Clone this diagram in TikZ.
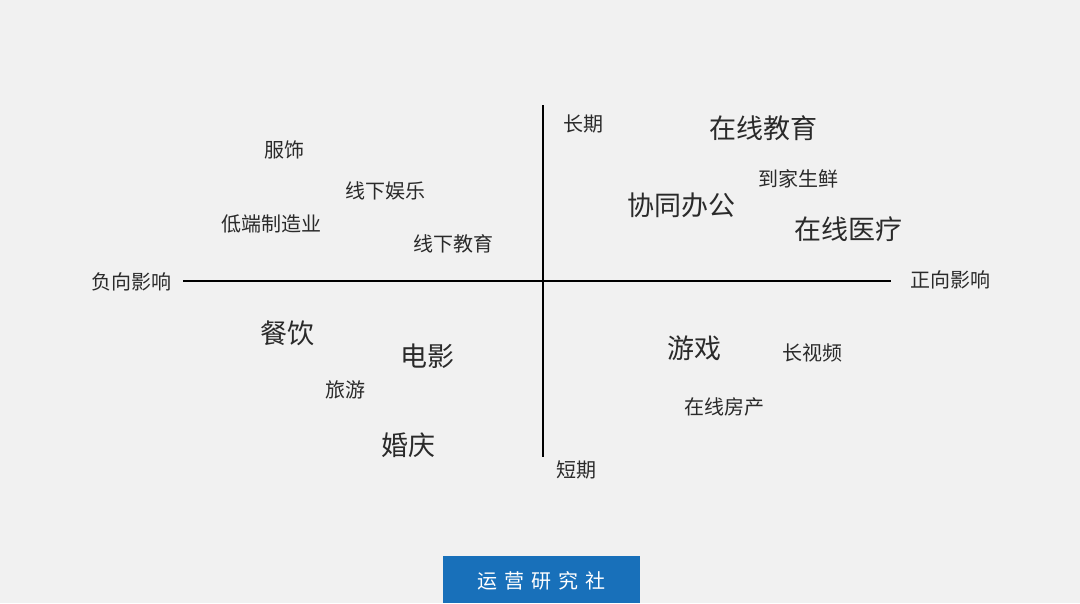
\documentclass[tikz,border=0pt]{standalone}
\usepackage{fontspec}
\setmainfont{Noto Sans CJK SC}
\definecolor{bg}{HTML}{F1F1F1}
\definecolor{ink}{HTML}{2A2A2A}
\definecolor{brand}{HTML}{1870BA}
\begin{document}
\begin{tikzpicture}[x=1pt,y=-1pt,
  lbl/.style={text=ink,inner sep=0pt,font=\fontsize{20}{20}\selectfont},
  big/.style={text=ink,inner sep=0pt,font=\fontsize{27}{27}\selectfont},
  axis/.style={draw=black,line width=2.4pt}]
\fill[bg] (0,0) rectangle (1080,603);
\useasboundingbox (0,0) rectangle (1080,603);
% axes
\coordinate (xl) at (183,281);
\coordinate (xr) at (891,281);
\coordinate (yt) at (543,105);
\coordinate (yb) at (543,457);
\draw[axis] (xl) -- (xr);
\draw[axis] (yt) -- (yb);
% axis labels
\node[lbl] (neg) at (131,282) {负向影响};
\node[lbl] (pos) at (950,280) {正向影响};
\node[lbl] (long) at (583,124) {长期};
\node[lbl] (short) at (576,470) {短期};
% upper left
\node[lbl] (fs) at (284,150) {服饰};
\node[lbl] (xxyl) at (385,191) {线下娱乐};
\node[lbl] (dd) at (271,224) {低端制造业};
\node[lbl] (xxjy) at (453,244) {线下教育};
% upper right
\node[big] (zxjy) at (763,128) {在线教育};
\node[lbl] (djsx) at (798,179) {到家生鲜};
\node[big] (xtbg) at (681,205) {协同办公};
\node[big] (zxyl) at (848,229) {在线医疗};
% lower left
\node[big] (cy) at (287,333) {餐饮};
\node[big] (dy) at (427,356) {电影};
\node[lbl] (ly) at (345,390) {旅游};
\node[big] (hq) at (408,445) {婚庆};
% lower right
\node[big] (yx) at (694,348) {游戏};
\node[lbl] (csp) at (812,353) {长视频};
\node[lbl] (zxfc) at (724,407) {在线房产};
% brand
\fill[brand] (443,556) rectangle (640,603);
\node[text=white,inner sep=0pt,font=\fontsize{20}{20}\selectfont] (brandtxt) at (541,581) {运\hspace{7pt}营\hspace{7pt}研\hspace{7pt}究\hspace{7pt}社};
\end{tikzpicture}
\end{document}
